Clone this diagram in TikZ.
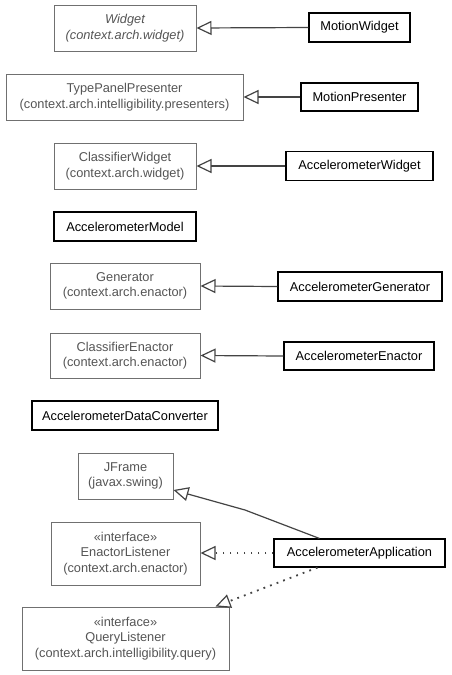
\documentclass[tikz,border=0pt]{standalone}
\usepackage{fontspec}
\setmainfont{Liberation Sans}
\usetikzlibrary{arrows.meta}
\definecolor{gline}{HTML}{707070}
\definecolor{gtext}{HTML}{555555}
\definecolor{conn}{HTML}{444444}
\tikzset{
  box/.style={draw, rectangle, inner sep=0pt, align=center, font=\fontsize{12.8}{15.5}\selectfont},
  gbox/.style={box, draw=gline, text=gtext, line width=1pt},
  bbox/.style={box, draw=black, text=black, line width=1.1pt, minimum height=29pt},
  inh/.style={draw=conn, line width=1.2pt, -{Triangle[open, length=15pt, width=14pt, line width=1.2pt, fill=white]}},
  real/.style={inh, line width=1.8pt, dash pattern=on 1.8pt off 5.2pt},
}
\begin{document}
\begin{tikzpicture}[x=1pt,y=-1pt]
\useasboundingbox[fill=white] (0,0) rectangle (451,675);
\node[gbox, minimum width=142pt, minimum height=46pt] (widget) at (125,28) {\itshape Widget\\\itshape (context.arch.widget)};
\node[bbox, minimum width=101pt] (mw) at (359.5,27.5) {MotionWidget};
\node[gbox, minimum width=237pt, minimum height=46pt] (tpp) at (124.5,97) {TypePanelPresenter\\(context.arch.intelligibility.presenters)};
\node[bbox, minimum width=117pt, minimum height=28pt] (mp) at (359.5,97) {MotionPresenter};
\node[gbox, minimum width=142pt, minimum height=46pt] (cw) at (125,166) {ClassifierWidget\\(context.arch.widget)};
\node[bbox, minimum width=147pt] (aw) at (359.5,166) {AccelerometerWidget};
\node[bbox, minimum width=142pt] (am) at (125,226.5) {AccelerometerModel};
\node[gbox, minimum width=150pt, minimum height=46pt] (gen) at (125,286) {Generator\\(context.arch.enactor)};
\node[bbox, minimum width=164pt] (ag) at (360,286.5) {AccelerometerGenerator};
\node[gbox, minimum width=150pt, minimum height=45pt] (ce) at (125,355.5) {ClassifierEnactor\\(context.arch.enactor)};
\node[bbox, minimum width=150pt, minimum height=28pt] (ae) at (359,356) {AccelerometerEnactor};
\node[bbox, minimum width=186pt] (adc) at (125,415.5) {AccelerometerDataConverter};
\node[gbox, minimum width=95pt, minimum height=46pt] (jf) at (125.5,476) {JFrame\\(javax.swing)};
\node[gbox, minimum width=149pt, minimum height=63pt] (el) at (125.5,553.5) {«interface»\\EnactorListener\\(context.arch.enactor)};
\node[bbox, minimum width=171pt, minimum height=28pt] (app) at (359.5,553) {AccelerometerApplication};
\node[gbox, minimum width=207pt, minimum height=63pt] (ql) at (125.5,638.5) {«interface»\\QueryListener\\(context.arch.intelligibility.query)};
\coordinate (bend) at (245,510);
\draw[inh] (mw.west) -- (widget.east);
\draw[inh] (mp.west) -- (tpp.east);
\draw[inh] (aw.west) -- (cw.east);
\draw[inh] (ag.west) -- (gen.east);
\draw[inh] (ae.west) -- (ce.east);
\draw[inh] ([xshift=-40pt]app.north) -- (bend) -- ([yshift=-14pt]jf.east);
\draw[real] (app.west) -- (el.east |- app.west);
\draw[real] ([xshift=-42pt]app.south) -- ([xshift=90pt]ql.north);
\end{tikzpicture}
\end{document}
